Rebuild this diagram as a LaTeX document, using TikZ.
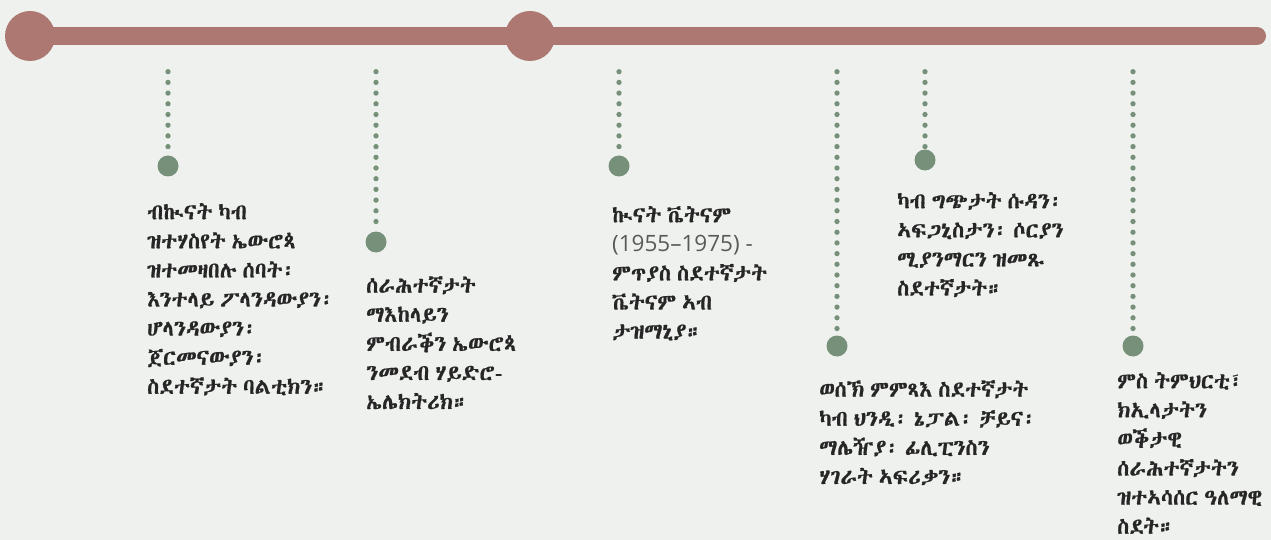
\documentclass[tikz,border=0pt]{standalone}
\usepackage{fontspec}
\newfontfamily\ethfont[WordSpace=0.6,FakeBold=0.7]{Abyssinica SIL}
\newfontfamily\numfont{Open Sans}
\definecolor{bgc}{HTML}{EFF1EE}
\definecolor{linec}{HTML}{AD7772}
\definecolor{greenc}{HTML}{76907A}
\definecolor{txtc}{HTML}{262626}
\definecolor{numc}{HTML}{5A5A5A}
\tikzset{
  bigdot/.style={circle,fill=linec,minimum size=50pt,inner sep=0pt},
  enddot/.style={circle,fill=greenc,minimum size=21pt,inner sep=0pt},
  dotline/.style={greenc,line width=5.3pt,line cap=round,dash pattern=on 0pt off 10.7pt},
  label/.style={anchor=north west,inner sep=0pt,align=left,text=txtc,
    font=\ethfont\fontsize{22pt}{29.1pt}\selectfont},
}
\begin{document}
\begin{tikzpicture}[x=1pt,y=-1pt]
\fill[bgc] (0,0) rectangle (1271,540);
\useasboundingbox (0,0) rectangle (1271,540);
% main line
\coordinate (ls) at (30,36);
\coordinate (le) at (1257,36);
\draw[linec,line width=18pt,line cap=round] (ls) -- (le);
\node[bigdot] (b1) at (30,36) {};
\node[bigdot] (b2) at (530,36) {};
% markers
\foreach \i/\x/\y in {1/168/166, 2/376/242, 3/619/166, 4/837/346, 5/925/160, 6/1133/346}{
  \coordinate (t\i) at (\x,71.7);
  \node[enddot] (c\i) at (\x,\y) {};
  \draw[dotline] (t\i) -- (c\i.north);
}
% texts
\node[label] (l1) at (147,203) {ብኲናት ካብ\\ዝተሃስየት ኤውሮጳ\\ዝተመዛበሉ ሰባት፡\\እንተላይ ፖላንዳውያን፡\\ሆላንዳውያን፡\\ጀርመናውያን፡\\ስደተኛታት ባልቲክን።};
\node[label] (l2) at (366,276) {ሰራሕተኛታት\\ማእከላይን\\ምብራቕን ኤውሮጳ\\ንመደብ ሃይድሮ-\\ኤሌክትሪክ።};
\node[label] (l3) at (612,206) {ኲናት ቬትናም\\{\numfont\fontsize{22.5pt}{29.1pt}\selectfont\color{numc}(1955–1975) -}\\ምጥያስ ስደተኛታት\\ቬትናም ኣብ\\ታዝማኒያ።};
\node[label] (l4) at (819,380) {ወሰኽ ምምጻእ ስደተኛታት\\ካብ ህንዲ፡ ኔፓል፡ ቻይና፡\\ማሌዥያ፡ ፊሊፒንስን\\ሃገራት ኣፍሪቃን።};
\node[label] (l5) at (897,192) {ካብ ግጭታት ሱዳን፡\\ኣፍጋኒስታን፡ ሶርያን\\ሚያንማርን ዝመጹ\\ስደተኛታት።};
\node[label] (l6) at (1117,372) {ምስ ትምህርቲ፣\\ክኢላታትን\\ወቕታዊ\\ሰራሕተኛታትን\\ዝተኣሳሰር ዓለማዊ\\ስደት።};
\end{tikzpicture}
\end{document}
